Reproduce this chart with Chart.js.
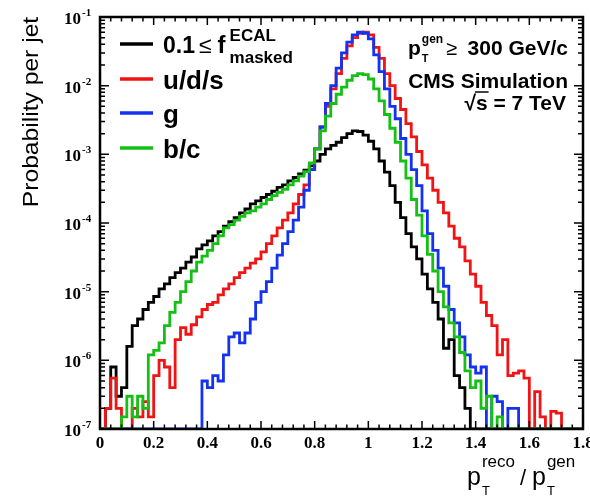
<!DOCTYPE html>
<html>
<head>
<meta charset="utf-8">
<script src="https://cdn.jsdelivr.net/npm/chart.js@4.4.0/dist/chart.umd.min.js"></script>
<style>
html, body { margin: 0; padding: 0; background: #fff; }
canvas { display: block; }
</style>
</head>
<body>
<canvas id="chart" width="590" height="496"></canvas>
<script>
// axis ranges and bins
const xMin = 0, xMax = 1.8, binWidth = 0.02;
const yMin = 1e-7, yMax = 1e-1;
const xTickLabels = ["0", "0.2", "0.4", "0.6", "0.8", "1", "1.2", "1.4", "1.6", "1.8"];
const yTickExps = [-1, -2, -3, -4, -5, -6, -7];

const seriesLabels = ["0.1 \u2264 f masked ECAL", "u/d/s", "g", "b/c"];
const seriesColors = ["#000000", "#f01414", "#1432f0", "#14c014"];

// probability per jet, one value per 0.02 bin from 0 to 1.8
const masked = [
    0, 0, 2e-7, 8e-7, 3e-7, 4e-7, 1.6e-6, 3.2e-6, 4e-6, 5.5e-6,
    7e-6, 8.5e-6, 1.1e-5, 1.3e-5, 1.6e-5, 1.9e-5, 2.2e-5, 2.7e-5, 3.2e-5, 4.2e-5,
    4.8e-5, 5.5e-5, 6.5e-5, 7.5e-5, 9e-5, 1.05e-4, 1.2e-4, 1.4e-4, 1.6e-4, 1.9e-4,
    2.1e-4, 2.35e-4, 2.6e-4, 2.9e-4, 3.3e-4, 3.6e-4, 4.1e-4, 4.6e-4, 5.2e-4, 5.9e-4,
    6.8e-4, 8e-4, 1e-3, 1.2e-3, 1.35e-3, 1.5e-3, 1.75e-3, 2.0e-3, 2.2e-3, 2.15e-3,
    1.9e-3, 1.55e-3, 1.2e-3, 8e-4, 5.5e-4, 3.5e-4, 2e-4, 1.2e-4, 7e-5, 4.5e-5,
    3e-5, 1.8e-5, 1.1e-5, 7e-6, 4e-6, 1.5e-6, 2e-6, 6e-7, 4e-7, 2e-7,
    0, 0, 0, 0, 0, 0, 0, 0, 0, 0,
    0, 0, 0, 0, 0, 0, 0, 0, 0, 0
];
const uds = [
    0, 0, 2e-7, 5.5e-7, 2e-7, 0, 0, 2e-7, 1.5e-7, 2.5e-7,
    1.5e-7, 6e-7, 1e-6, 8e-7, 4e-7, 2e-6, 3e-6, 2.4e-6, 3.3e-6, 4.3e-6,
    5.5e-6, 6.5e-6, 7e-6, 9e-6, 1.1e-5, 1.3e-5, 1.6e-5, 1.9e-5, 2.2e-5, 2.6e-5,
    3e-5, 3.8e-5, 5e-5, 6.5e-5, 8.5e-5, 1.1e-4, 1.4e-4, 1.9e-4, 2.6e-4, 3.6e-4,
    6e-4, 1.2e-3, 2.5e-3, 5e-3, 9e-3, 1.5e-2, 2.5e-2, 3.8e-2, 5e-2, 5.8e-2,
    6e-2, 5.5e-2, 3.6e-2, 2.5e-2, 1.5e-2, 1e-2, 6.5e-3, 4.5e-3, 2.8e-3, 1.8e-3,
    1.1e-3, 7e-4, 4.5e-4, 3e-4, 2e-4, 1.4e-4, 9e-5, 6e-5, 4.5e-5, 2.8e-5,
    1.8e-5, 1.2e-5, 7e-6, 4.5e-6, 3.2e-6, 1.2e-6, 2e-6, 6e-7, 6.5e-7, 7e-7,
    5.5e-7, 0, 3.5e-7, 1.5e-7, 0, 1.8e-7, 1.7e-7, 0, 0, 0
];
const gluon = [
    0, 0, 0, 0, 0, 0, 0, 0, 0, 0,
    0, 0, 0, 0, 0, 0, 0, 0, 0, 0,
    5e-7, 4e-7, 6e-7, 5e-7, 1.2e-6, 2.2e-6, 2.5e-6, 1.8e-6, 2.5e-6, 4e-6,
    7e-6, 1e-5, 1.4e-5, 2.2e-5, 3.4e-5, 5e-5, 7.5e-5, 1.1e-4, 1.7e-4, 3e-4,
    6e-4, 1.2e-3, 2.5e-3, 5.5e-3, 1e-2, 1.8e-2, 3e-2, 4.3e-2, 5.5e-2, 6e-2,
    5.8e-2, 4.8e-2, 2.8e-2, 1.6e-2, 9e-3, 5e-3, 3.3e-3, 1.7e-3, 1e-3, 6e-4,
    3.5e-4, 1.5e-4, 7e-5, 4e-5, 2.2e-5, 1.2e-5, 5.5e-6, 3.5e-6, 2.2e-6, 1.2e-6,
    8e-7, 6.5e-7, 8e-7, 0, 3e-7, 2.5e-7, 0, 2e-7, 2e-7, 0,
    0, 0, 0, 0, 0, 0, 0, 0, 0, 0
];
const bc = [
    0, 0, 0, 0, 0, 1.5e-7, 3e-7, 1.5e-7, 3e-7, 2e-7,
    1.2e-6, 1.4e-6, 1.8e-6, 3.2e-6, 5e-6, 7e-6, 1e-5, 1.4e-5, 2e-5, 2.7e-5,
    3.3e-5, 4e-5, 5e-5, 6.5e-5, 8.5e-5, 9.5e-5, 1.1e-4, 1.25e-4, 1.4e-4, 1.5e-4,
    1.7e-4, 1.9e-4, 2.2e-4, 2.5e-4, 2.8e-4, 3.1e-4, 3.6e-4, 4.1e-4, 4.8e-4, 5.6e-4,
    7.5e-4, 1.2e-3, 2.2e-3, 3.6e-3, 5.5e-3, 7.5e-3, 9.5e-3, 1.2e-2, 1.4e-2, 1.5e-2,
    1.45e-2, 1.25e-2, 9e-3, 6e-3, 3.8e-3, 2.4e-3, 1.5e-3, 8e-4, 4.5e-4, 2.2e-4,
    1.3e-4, 6.5e-5, 3.5e-5, 2e-5, 1e-5, 6e-6, 3.5e-6, 2.2e-6, 1.3e-6, 7e-7,
    4e-7, 5e-7, 2e-7, 3e-7, 0, 1.5e-7, 0, 0, 0, 0,
    0, 0, 0, 0, 0, 0, 0, 0, 0, 0
];

// empty bins sit on the bottom of the log axis
function toSteps(values) {
    const pts = values.map((v, i) => ({ x: +(i * binWidth).toFixed(2), y: v > 0 ? v : yMin }));
    pts.push({ x: +(values.length * binWidth).toFixed(2), y: pts[pts.length - 1].y });
    return pts;
}

const SANS = '"Liberation Sans", Arial, sans-serif';
const SERIF = '"Liberation Serif", "Times New Roman", serif';

function txt(ctx, s, x, y, font, align) {
    ctx.font = font;
    ctx.textAlign = align || "left";
    ctx.fillText(s, x, y);
    return ctx.measureText(s).width;
}

const framePlugin = {
    id: "frame",
    afterDraw(chart) {
        const { ctx, chartArea: a, scales } = chart;
        const x = scales.x, y = scales.y;
        ctx.save();
        ctx.strokeStyle = "#000";
        ctx.fillStyle = "#000";
        ctx.lineWidth = 1.5;

        // x ticks, top and bottom
        ctx.beginPath();
        for (let k = 0; k <= 45; k++) {
            const px = x.getPixelForValue(k * 0.04);
            const len = k % 5 === 0 ? 8 : 4.5;
            ctx.moveTo(px, a.bottom); ctx.lineTo(px, a.bottom - len);
            ctx.moveTo(px, a.top); ctx.lineTo(px, a.top + len);
        }
        // y ticks, left and right
        for (let e = -7; e <= -1; e++) {
            const py = y.getPixelForValue(Math.pow(10, e));
            ctx.moveTo(a.left, py); ctx.lineTo(a.left + 9, py);
            ctx.moveTo(a.right, py); ctx.lineTo(a.right - 9, py);
            if (e === -1) continue;
            for (let m = 2; m <= 9; m++) {
                const pm = y.getPixelForValue(m * Math.pow(10, e));
                ctx.moveTo(a.left, pm); ctx.lineTo(a.left + 5, pm);
                ctx.moveTo(a.right, pm); ctx.lineTo(a.right - 5, pm);
            }
        }
        ctx.stroke();

        ctx.lineWidth = 2.5;
        ctx.strokeRect(a.left, a.top, a.right - a.left, a.bottom - a.top);

        // tick labels
        xTickLabels.forEach(function (lab) {
            txt(ctx, lab, x.getPixelForValue(parseFloat(lab)), a.bottom + 19, "bold 17px " + SERIF, "center");
        });
        yTickExps.forEach(function (e) {
            const py = y.getPixelForValue(Math.pow(10, e));
            txt(ctx, "10", 81, py + 7, "bold 17px " + SERIF, "right");
            txt(ctx, String(e), 82, py - 1, "bold 11px " + SERIF, "left");
        });

        // axis titles
        ctx.save();
        ctx.translate(38, 112);
        ctx.rotate(-Math.PI / 2);
        ctx.scale(1.12, 1);
        txt(ctx, "Probability per jet", 0, 0, "22px " + SANS, "center");
        ctx.restore();

        let cx = 467;
        cx += txt(ctx, "p", cx, 485, "25px " + SANS);
        txt(ctx, "reco", cx + 1, 467, "17px " + SANS);
        txt(ctx, "T", cx + 1, 495, "13px " + SANS);
        txt(ctx, "/", 520, 485, "22px " + SANS);
        cx = 532;
        cx += txt(ctx, "p", cx, 485, "25px " + SANS);
        txt(ctx, "gen", cx + 1, 467, "17px " + SANS);
        txt(ctx, "T", cx + 1, 495, "13px " + SANS);

        // legend
        const legendY = [44, 79, 113, 148];
        seriesColors.forEach(function (c, i) {
            ctx.strokeStyle = c;
            ctx.lineWidth = 3.5;
            ctx.beginPath();
            ctx.moveTo(120, legendY[i]); ctx.lineTo(153, legendY[i]);
            ctx.stroke();
            if (i > 0) txt(ctx, seriesLabels[i], 163, legendY[i] + 10, "bold 26px " + SANS);
        });
        let lx = 163;
        lx += txt(ctx, "0.1", lx, 53, "bold 23px " + SANS) + 4;
        lx += txt(ctx, "\u2264", lx, 53, "23px " + SANS) + 6;
        lx += txt(ctx, "f", lx, 53, "bold 24px " + SANS) + 4;
        txt(ctx, "ECAL", lx, 41, "bold 17px " + SANS);
        txt(ctx, "masked", lx, 63, "bold 17px " + SANS);

        // annotation
        let ax = 408;
        ax += txt(ctx, "p", ax, 55, "bold 21px " + SANS);
        txt(ctx, "gen", ax + 1, 43, "bold 12px " + SANS);
        txt(ctx, "T", ax + 1, 62, "bold 11px " + SANS);
        txt(ctx, "\u2265", 446, 55, "20px " + SANS);
        txt(ctx, "300 GeV/c", 568, 55, "bold 21px " + SANS, "right");
        txt(ctx, "CMS Simulation", 568, 88, "bold 21px " + SANS, "right");
        ctx.font = "bold 21px " + SANS;
        const restW = ctx.measureText(" = 7 TeV").width;
        const sW = ctx.measureText("s").width;
        const sX = 566 - restW - sW;
        txt(ctx, " = 7 TeV", 566, 110, "bold 21px " + SANS, "right");
        txt(ctx, "s", sX, 110, "bold 21px " + SANS);
        txt(ctx, "\u221A", sX, 110, "bold 21px " + SANS, "right");
        ctx.strokeStyle = "#000";
        ctx.lineWidth = 1.5;
        ctx.beginPath();
        ctx.moveTo(sX - 1, 92); ctx.lineTo(sX + sW + 1, 92);
        ctx.stroke();

        ctx.restore();
    }
};

const seriesData = [masked, uds, gluon, bc];
const drawOrder = [3, 2, 1, 0];

new Chart(document.getElementById("chart"), {
    type: "line",
    data: {
        datasets: seriesData.map(function (vals, i) {
            return {
                label: seriesLabels[i],
                data: toSteps(vals),
                borderColor: seriesColors[i],
                borderWidth: 2.8,
                stepped: "after",
                pointRadius: 0,
                fill: false,
                order: drawOrder[i]
            };
        })
    },
    options: {
        responsive: false,
        animation: false,
        layout: { padding: { left: 100, top: 17, right: 7, bottom: 67 } },
        plugins: { legend: { display: false }, tooltip: { enabled: false } },
        scales: {
            x: { type: "linear", min: xMin, max: xMax, display: false },
            y: { type: "logarithmic", min: yMin, max: yMax, display: false }
        }
    },
    plugins: [framePlugin]
});
</script>
</body>
</html>
